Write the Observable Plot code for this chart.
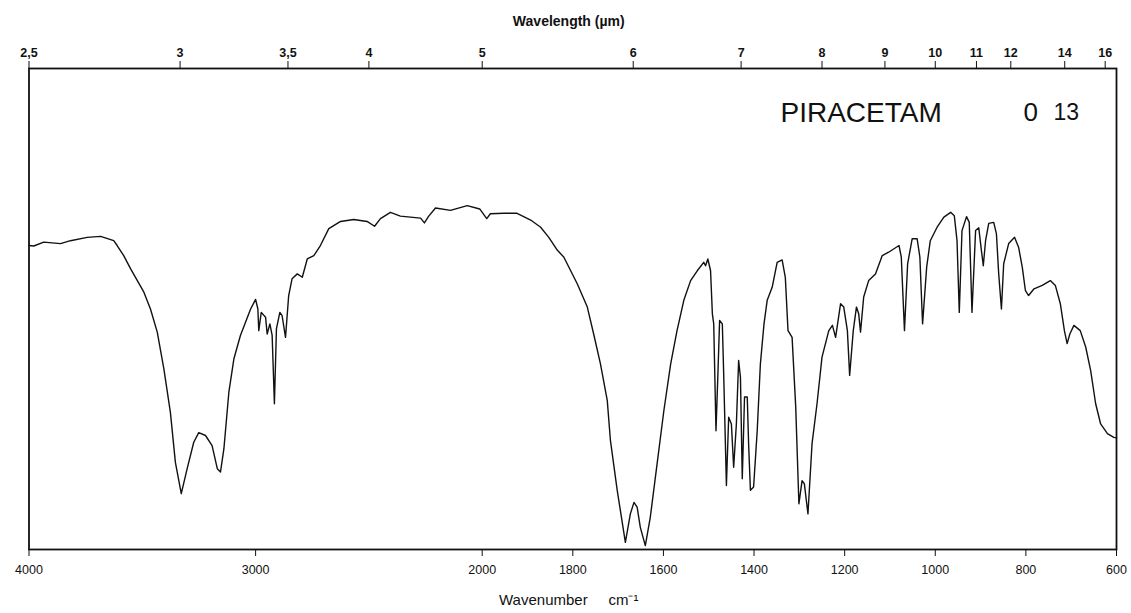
<!DOCTYPE html>
<html>
<head>
<meta charset="utf-8">
<script src="https://cdn.jsdelivr.net/npm/d3@7"></script>
<script src="https://cdn.jsdelivr.net/npm/@observablehq/plot@0.6"></script>
<style>
  html, body { margin: 0; padding: 0; background: #fff; }
  svg { display: block; }
</style>
</head>
<body>
<div id="chart"></div>
<script>
// Wavenumber (cm-1) and transmittance (% of frame height)
const wavenumber = [
  4000, 3979, 3935, 3861, 3817, 3743, 3684, 3626, 3611, 3582, 3552, 3493, 3464, 3434, 3405, 3376,
  3354, 3328, 3302, 3273, 3251, 3221, 3192, 3169, 3155, 3140, 3118, 3096, 3067, 3022, 3000, 2990,
  2986, 2975, 2956, 2949, 2937, 2927, 2917, 2908, 2893, 2883, 2868, 2854, 2839, 2816, 2794, 2772,
  2743, 2714, 2677, 2625, 2567, 2508, 2475, 2449, 2405, 2361, 2272, 2255, 2236, 2206, 2140, 2066,
  2011, 1990, 1982, 1952, 1923, 1893, 1871, 1853, 1834, 1820, 1805, 1790, 1768, 1754, 1739, 1724,
  1717, 1702, 1684, 1673, 1665, 1658, 1651, 1640, 1629, 1614, 1599, 1584, 1570, 1555, 1540, 1525,
  1511, 1507, 1502, 1496, 1492, 1489, 1484, 1480, 1476, 1470, 1467, 1461, 1456, 1450, 1445, 1439,
  1434, 1430, 1426, 1421, 1415, 1412, 1408, 1401, 1393, 1386, 1378, 1371, 1360, 1349, 1338, 1331,
  1325, 1316, 1308, 1301, 1294, 1289, 1281, 1272, 1261, 1250, 1235, 1227, 1220, 1209, 1202, 1194,
  1189, 1181, 1174, 1169, 1165, 1158, 1147, 1132, 1117, 1103, 1080, 1075, 1068, 1061, 1051, 1040,
  1034, 1028, 1019, 1011, 996, 981, 966, 958, 952, 947, 941, 931, 925, 919, 911, 904,
  899, 894, 889, 882, 871, 865, 860, 854, 849, 838, 825, 816, 808, 801, 794, 782,
  764, 746, 735, 724, 715, 709, 703, 694, 680, 668, 657, 646, 635, 620, 606, 600
];
const transmittance = [
  63.2, 63.1, 63.9, 63.6, 64.2, 64.9, 65.1, 64.2, 63.2, 61.1, 58.4, 53.5, 50.0, 45.2, 37.6, 28.5,
  18.1, 11.6, 16.8, 22.3, 24.3, 23.7, 21.6, 16.8, 16.1, 20.9, 32.7, 39.6, 44.5, 50.0, 52.0, 50.0,
  45.5, 49.3, 48.3, 44.8, 46.9, 44.5, 30.3, 45.9, 49.3, 48.6, 44.1, 52.8, 56.3, 57.3, 56.6, 60.4,
  61.1, 63.2, 66.7, 68.2, 68.6, 68.2, 67.2, 68.8, 70.1, 69.3, 68.9, 67.9, 69.3, 71.0, 70.5, 71.5,
  70.8, 68.8, 69.8, 69.9, 69.9, 68.5, 67.0, 64.9, 62.2, 60.8, 58.0, 55.2, 50.4, 44.8, 38.6, 31.0,
  22.7, 12.3, 1.5, 7.4, 9.8, 8.8, 4.6, 0.8, 6.7, 17.8, 28.9, 38.6, 45.5, 51.8, 55.9, 58.0,
  59.7, 59.0, 60.4, 58.0, 49.0, 46.9, 24.7, 35.8, 47.6, 46.9, 36.5, 13.3, 27.5, 26.1, 17.1, 26.1,
  39.3, 35.8, 14.7, 31.7, 31.7, 22.0, 12.3, 13.0, 24.7, 38.6, 46.9, 51.8, 54.5, 59.7, 60.2, 56.6,
  45.5, 44.1, 29.6, 9.5, 14.3, 13.7, 7.4, 22.0, 30.3, 40.0, 45.5, 46.6, 44.1, 51.1, 50.4, 45.5,
  36.2, 45.5, 50.4, 49.0, 45.2, 52.5, 55.9, 57.3, 61.1, 61.8, 63.2, 60.8, 45.5, 59.4, 64.6, 64.6,
  60.8, 46.9, 58.7, 64.2, 67.0, 69.1, 70.1, 69.4, 64.2, 49.3, 66.3, 69.2, 68.0, 49.3, 66.3, 66.9,
  62.8, 59.0, 64.2, 67.8, 68.0, 65.6, 57.3, 50.0, 59.4, 63.6, 64.9, 62.8, 58.7, 53.8, 52.8, 54.2,
  54.9, 55.9, 54.9, 51.1, 45.5, 42.8, 44.8, 46.6, 45.5, 42.1, 37.2, 30.3, 26.1, 24.1, 23.3, 23.2
];

// Axis ticks
const bottomTicks = [4000, 3000, 2000, 1800, 1600, 1400, 1200, 1000, 800, 600];
const topWavelengths = [2.5, 3, 3.5, 4, 5, 6, 7, 8, 9, 10, 11, 12, 14, 16];
const topTickLabels = ["2,5", "3", "3,5", "4", "5", "6", "7", "8", "9", "10", "11", "12", "14", "16"];

const compound = "PIRACETAM";
const codeA = "0";
const codeB = "13";
const topTitle = "Wavelength (µm)";
const bottomTitle = "Wavenumber\u00a0\u00a0\u00a0\u00a0\u00a0cm⁻¹";

const spectrum = wavenumber.map((w, i) => ({wn: w, t: transmittance[i]}));
const topTickWn = topWavelengths.map(w => 10000 / w);

const W = 1131, H = 613;
const mL = 28.5, mR = 15, mT = 68, mB = 64;
const xBreak = 481.7;

const font = "'Liberation Sans', Arial, Helvetica, sans-serif";

const chart = Plot.plot({
  width: W,
  height: H,
  marginLeft: mL,
  marginRight: mR,
  marginTop: mT,
  marginBottom: mB,
  style: {fontFamily: font, background: "#fff", color: "#111"},
  x: {type: "linear", domain: [4000, 2000, 600], range: [mL, xBreak, W - mR]},
  y: {domain: [0, 100], axis: null},
  marks: [
    Plot.frame({stroke: "#111", strokeWidth: 1.8}),
    Plot.axisX({
      anchor: "bottom",
      ticks: bottomTicks,
      tickSize: 7,
      tickPadding: 9,
      tickFormat: d => String(d),
      fontSize: 12.5,
      label: null,
      stroke: "#111"
    }),
    Plot.axisX({
      anchor: "top",
      ticks: topTickWn,
      tickSize: 8,
      tickPadding: 4,
      tickFormat: d => topTickLabels[topTickWn.indexOf(d)],
      fontSize: 12.5,
      fontWeight: "bold",
      label: null,
      stroke: "#111"
    }),
    Plot.line(spectrum, {x: "wn", y: "t", stroke: "#111", strokeWidth: 1.4}),
    Plot.text([topTitle], {frameAnchor: "top", dy: -52, dx: -4, fontSize: 14, fontWeight: "bold", fill: "#111"}),
    Plot.text([bottomTitle], {frameAnchor: "bottom", dy: 55, dx: -4, fontSize: 15, fill: "#111"}),
    Plot.text([compound], {frameAnchor: "top-left", dx: 751.5, dy: 34, textAnchor: "start", fontSize: 28, fill: "#111"}),
    Plot.text([codeA], {frameAnchor: "top-left", dx: 994.5, dy: 34, textAnchor: "start", fontSize: 26, fill: "#111"}),
    Plot.text([codeB], {frameAnchor: "top-left", dx: 1024.5, dy: 35, textAnchor: "start", fontSize: 23, fill: "#111"})
  ]
});

document.getElementById("chart").appendChild(chart);
</script>
</body>
</html>
